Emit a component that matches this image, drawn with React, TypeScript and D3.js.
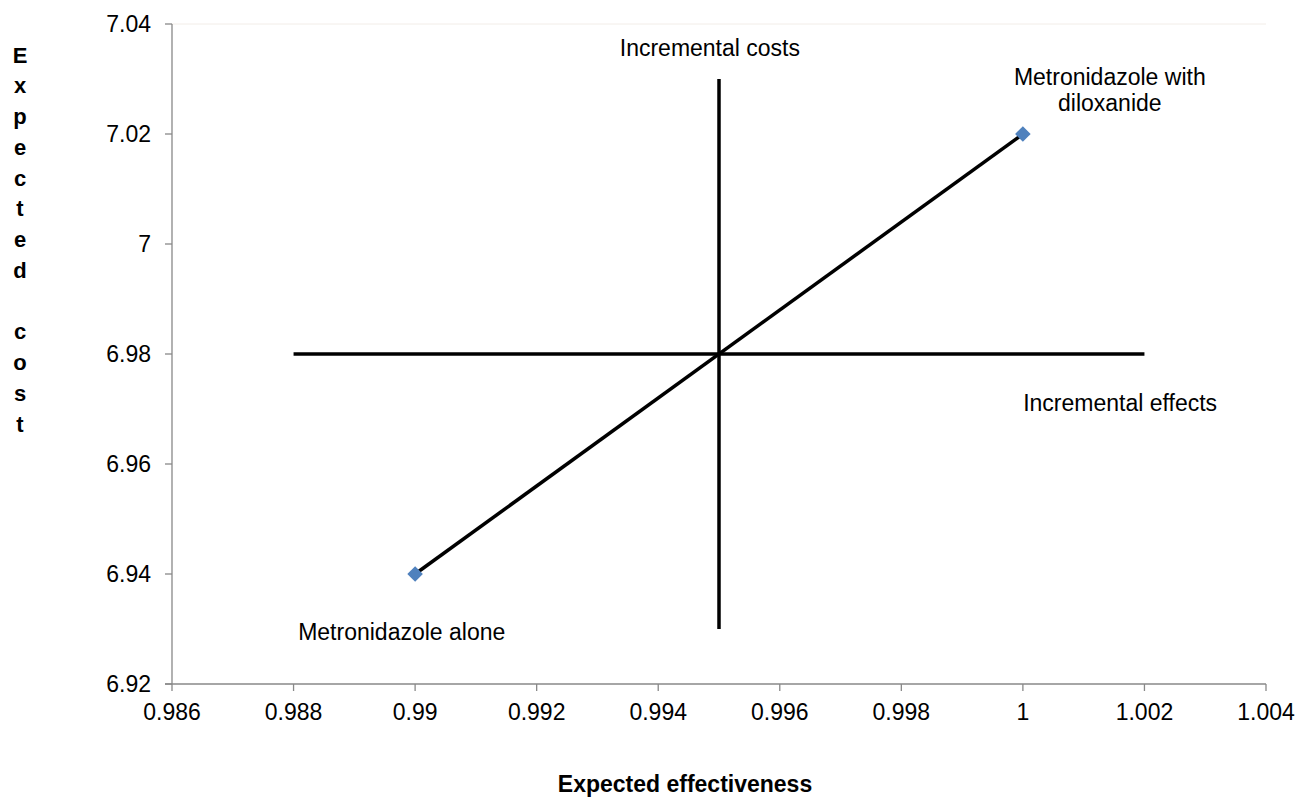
import React from 'react';
import { scaleLinear, line } from 'd3';

const xTicks = [0.986, 0.988, 0.99, 0.992, 0.994, 0.996, 0.998, 1, 1.002, 1.004];
const yTicks = [6.92, 6.94, 6.96, 6.98, 7, 7.02, 7.04];

// the two strategies
const strategies = [
  { name: 'Metronidazole alone', eff: 0.99, cost: 6.94 },
  { name: 'Metronidazole with diloxanide', eff: 1, cost: 7.02 },
];

// quadrant cross lines
const hLine: [number, number][] = [[0.988, 6.98], [1.002, 6.98]];
const vLine: [number, number][] = [[0.995, 6.93], [0.995, 7.03]];

const labels = [
  { lines: ['Incremental costs'], x: 0.99485, y: 7.0356 },
  { lines: ['Metronidazole with', 'diloxanide'], x: 1.00143, y: 7.0304 },
  { lines: ['Incremental effects'], x: 1.0016, y: 6.9711 },
  { lines: ['Metronidazole alone'], x: 0.98978, y: 6.9295 },
];

const yTitle = 'Expected cost';

const App: React.FC = () => {
  const width = 1298;
  const height = 798;
  const xScale = scaleLinear([0.986, 1.004], [172, 1266]);
  const yScale = scaleLinear([6.92, 7.04], [684, 24]);
  const gen = line().x(d => xScale(d[0])).y(d => yScale(d[1]));
  const diag: [number, number][] = strategies.map(s => [s.eff, s.cost]);
  const font = 'Liberation Sans, Arial, sans-serif';

  return (
    <svg width={width} height={height} style={{ position: 'absolute', left: 0, top: 0 }} fontFamily={font}>
      <rect width={width} height={height} fill="#fff" />
      {/* faint top border of plot area */}
      <line x1={172} x2={1266} y1={24} y2={24} stroke="#f2ede8" strokeWidth={1} />
      {/* axes */}
      <line x1={172} x2={172} y1={24} y2={684} stroke="#888" strokeWidth={1.3} />
      <line x1={165} x2={1266} y1={684} y2={684} stroke="#888" strokeWidth={1.3} />
      {yTicks.map(t => (
        <g key={t}>
          <line x1={165} x2={172} y1={yScale(t)} y2={yScale(t)} stroke="#888" strokeWidth={1.3} />
          <text x={151} y={yScale(t)} dy="0.35em" textAnchor="end" fontSize={23} fill="#000">{String(t)}</text>
        </g>
      ))}
      {xTicks.map(t => (
        <g key={t}>
          <line x1={xScale(t)} x2={xScale(t)} y1={684} y2={691} stroke="#888" strokeWidth={1.3} />
          <text x={xScale(t)} y={712} dy="0.35em" textAnchor="middle" fontSize={23} fill="#000">{String(t)}</text>
        </g>
      ))}
      {/* lines */}
      <path d={gen(hLine) ?? ''} stroke="#000" strokeWidth={3.5} fill="none" />
      <path d={gen(vLine) ?? ''} stroke="#000" strokeWidth={3.5} fill="none" />
      <path d={gen(diag) ?? ''} stroke="#000" strokeWidth={3.5} fill="none" />
      {strategies.map(s => (
        <rect key={s.name} x={xScale(s.eff) - 5.5} y={yScale(s.cost) - 5.5} width={11} height={11}
          fill="#4F81BD" transform={`rotate(45 ${xScale(s.eff)} ${yScale(s.cost)})`} />
      ))}
      {/* annotations */}
      {labels.map((l, i) => (
        <text key={i} x={xScale(l.x)} y={yScale(l.y)} textAnchor="middle" fontSize={23} fill="#000">
          {l.lines.map((s, j) => (
            <tspan key={j} x={xScale(l.x)} dy={j === 0 ? '0.35em' : 26}>{s}</tspan>
          ))}
        </text>
      ))}
      {/* axis titles */}
      <text x={685} y={784} dy="0.35em" textAnchor="middle" fontSize={23} fontWeight="bold" fill="#000">Expected effectiveness</text>
      {yTitle.split('').map((c, i) => (
        <text key={i} x={20} y={55 + i * 30.75} dy="0.35em" textAnchor="middle" fontSize={22} fontWeight="bold" fill="#000">{c}</text>
      ))}
    </svg>
  );
};

export default App;
